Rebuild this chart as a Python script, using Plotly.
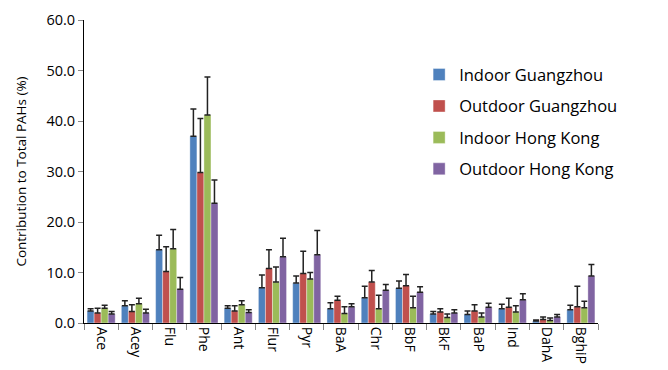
import plotly.graph_objects as go

# PAH compounds on the category axis
compounds = ["Ace", "Acey", "Flu", "Phe", "Ant", "Flur", "Pyr", "BaA", "Chr",
             "BbF", "BkF", "BaP", "Ind", "DahA", "BghiP"]

# Mean contribution to total PAHs (%) and upper error (SD) per site
indoor_gz = [2.4, 3.4, 14.5, 37.0, 2.9, 7.0, 7.9, 2.8, 5.0, 6.9, 1.8, 1.7, 2.8, 0.4, 2.6]
indoor_gz_sd = [0.4, 1.0, 2.9, 5.4, 0.5, 2.5, 1.4, 1.2, 2.3, 1.4, 0.5, 0.7, 0.9, 0.2, 0.9]

outdoor_gz = [2.0, 2.3, 10.2, 29.8, 2.4, 10.8, 9.8, 4.5, 8.1, 7.4, 2.2, 2.4, 3.1, 0.7, 3.2]
outdoor_gz_sd = [0.9, 1.3, 4.9, 10.7, 1.0, 3.7, 4.4, 0.8, 2.3, 2.2, 0.6, 1.2, 1.8, 0.5, 4.1]

indoor_hk = [2.9, 3.8, 14.7, 41.2, 3.6, 8.1, 8.7, 1.9, 2.8, 3.0, 1.1, 1.2, 2.2, 0.5, 3.0]
indoor_hk_sd = [0.6, 1.1, 3.8, 7.5, 0.8, 3.0, 1.3, 1.3, 2.7, 2.3, 0.7, 0.8, 1.2, 0.5, 1.3]

outdoor_hk = [1.8, 2.0, 6.7, 23.7, 2.1, 13.1, 13.5, 3.2, 6.5, 6.1, 2.0, 3.1, 4.6, 1.2, 9.3]
outdoor_hk_sd = [0.5, 0.7, 2.3, 4.6, 0.5, 3.7, 4.8, 0.6, 1.1, 1.1, 0.6, 0.8, 1.2, 0.5, 2.3]

series = [
    ("Indoor Guangzhou", indoor_gz, indoor_gz_sd, "#4F81BD"),
    ("Outdoor Guangzhou", outdoor_gz, outdoor_gz_sd, "#C0504D"),
    ("Indoor Hong Kong", indoor_hk, indoor_hk_sd, "#9BBB59"),
    ("Outdoor Hong Kong", outdoor_hk, outdoor_hk_sd, "#8064A2"),
]

font_family = "'Open Sans', 'Noto Sans', sans-serif"

fig = go.Figure()
for i, (name, vals, sd, color) in enumerate(series):
    fig.add_trace(go.Bar(
        name=name,
        x=compounds,
        y=vals,
        marker=dict(color=color, line=dict(color="rgba(255,255,255,0.6)", width=0.6)),
        error_y=dict(type="data", array=sd, arrayminus=[0] * len(sd), symmetric=False,
                     color="#222222", thickness=1.5, width=3),
        legendgroup=f"g{i}",
    ))

fig.update_layout(
    width=668,
    height=370,
    margin=dict(l=84, r=70, t=20, b=47, autoexpand=False),
    paper_bgcolor="white",
    plot_bgcolor="white",
    barmode="group",
    bargap=0.18,
    bargroupgap=0,
    font=dict(family=font_family, color="#000000"),
    showlegend=True,
    legend=dict(
        x=0.652, y=0.877, xanchor="left", yanchor="top",
        font=dict(size=16.5, family=font_family),
        tracegroupgap=7,
        bgcolor="rgba(0,0,0,0)",
    ),
    xaxis=dict(
        type="category",
        automargin=False,
        showline=True, linecolor="#000000", linewidth=1,
        ticks="outside", tickson="boundaries", ticklen=6, tickcolor="#888888",
        tickangle=90,
        tickfont=dict(size=14),
        showgrid=False,
        zeroline=False,
    ),
    yaxis=dict(
        automargin=False,
        range=[0, 60],
        dtick=10,
        tickformat=".1f",
        showline=True, linecolor="#000000", linewidth=1,
        ticks="outside", ticklen=5, tickcolor="#888888",
        tickfont=dict(size=14.5),
        showgrid=False,
        zeroline=False,
        title=dict(text="Contribution to Total PAHs (%)", font=dict(size=13.5), standoff=16),
    ),
)

fig.write_html("out.html")
